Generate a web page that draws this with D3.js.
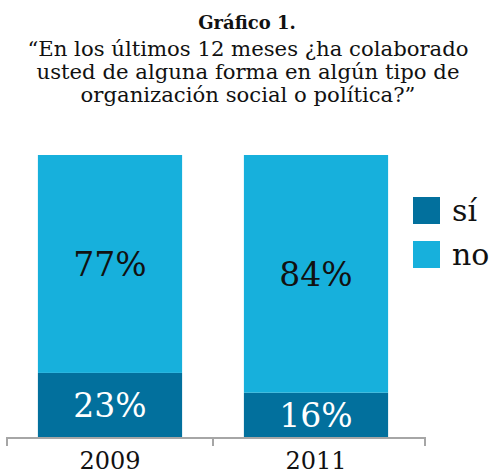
<!DOCTYPE html>
<html><head><meta charset="utf-8">
<script src="https://cdn.jsdelivr.net/npm/d3@7"></script>
<style>body{margin:0;background:#fff}svg{display:block}</style>
</head><body>
<script>
const years = ["2009", "2011"];
const si = [23, 16];
const no = [77, 84];
const seriesNames = ["sí", "no"];
const colors = ["#02709d", "#17b0dc"];
const titleLines = ["“En los últimos 12 meses ¿ha colaborado", "usted de alguna forma en algún tipo de", "organización social o política?”"];

const W = 493, H = 474;
const svg = d3.select("body").append("svg").attr("width", W).attr("height", H);
const font = "'DejaVu Serif', serif";

svg.append("text").attr("x", 247).attr("y", 29).attr("text-anchor", "middle")
  .attr("font-family", font).attr("font-weight", "bold").attr("font-size", 18).attr("fill", "#111").text("Gráfico 1.");
titleLines.forEach((t, i) => {
  svg.append("text").attr("x", 248).attr("y", 56 + i * 23).attr("text-anchor", "middle")
    .attr("font-family", font).attr("font-size", 21.2).attr("fill", "#111").text(t);
});

const data = years.map((y, i) => ({year: y, "sí": si[i], no: no[i]}));
const stack = d3.stack().keys(seriesNames)(data);

const x = d3.scaleBand().domain(years).range([7, 419]).paddingInner(0.3).paddingOuter(0.15);
const y = d3.scaleLinear().domain([0, 100]).range([438, 155]);

const g = svg.append("g");
stack.forEach((s, si_) => {
  g.selectAll(null).data(s).enter().append("rect")
    .attr("x", d => x(d.data.year)).attr("width", x.bandwidth())
    .attr("y", d => y(d[1])).attr("height", d => y(d[0]) - y(d[1]))
    .attr("fill", colors[si_]);
  g.selectAll(null).data(s).enter().append("text")
    .attr("x", d => x(d.data.year) + x.bandwidth() / 2)
    .attr("y", d => (y(d[0]) + y(d[1])) / 2 + 12)
    .attr("text-anchor", "middle").attr("font-family", font).attr("font-size", 33)
    .attr("fill", si_ === 0 ? "#fff" : "#111")
    .text(d => (d[1] - d[0]) + "%");
});

// axis
const axG = svg.append("g");
const tickXs = [7, (x(years[0]) + x.bandwidth() + x(years[1])) / 2, 425];
axG.append("line").attr("x1", 7).attr("x2", 425).attr("y1", 438).attr("y2", 438)
  .attr("stroke", "#a6a6a6").attr("stroke-width", 2);
tickXs.forEach(tx => axG.append("line").attr("x1", tx).attr("x2", tx).attr("y1", 437).attr("y2", 446)
  .attr("stroke", "#a6a6a6").attr("stroke-width", 2));
years.forEach(yr => axG.append("text").attr("x", x(yr) + x.bandwidth() / 2).attr("y", 469)
  .attr("text-anchor", "middle").attr("font-family", font).attr("font-size", 24).attr("fill", "#111").text(yr));

// legend
seriesNames.forEach((n, i) => {
  svg.append("rect").attr("x", 413).attr("y", 197 + i * 44).attr("width", 27).attr("height", 27).attr("fill", colors[i]);
  svg.append("text").attr("x", 452).attr("y", 221 + i * 44).attr("font-family", font).attr("font-size", 30)
    .attr("fill", "#111").text(n);
});
</script>
</body></html>
